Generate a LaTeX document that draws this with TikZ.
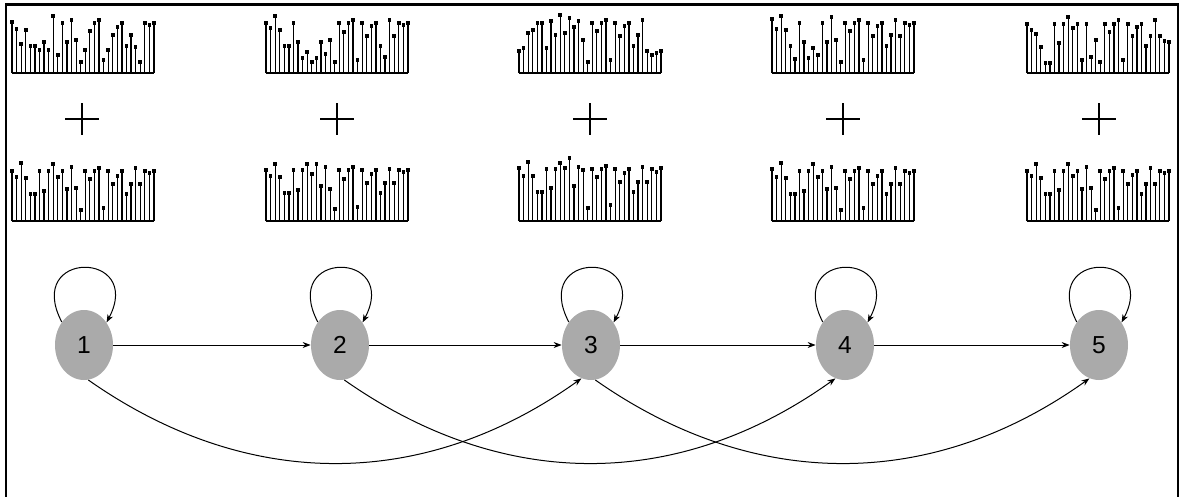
\documentclass[tikz,border=0pt]{standalone}
\usepackage{fontspec}
\setmainfont{Liberation Sans}
\usetikzlibrary{arrows.meta,shapes.geometric,calc}
\definecolor{stategray}{RGB}{170,170,170}
\begin{document}
\begin{tikzpicture}[x=0.02cm,y=-0.02cm,
  frame/.style={line width=2.6*0.02cm},
  stemline/.style={line width=1.2*0.02cm},
  baseline/.style={line width=1.6*0.02cm},
  plusline/.style={line width=1.1*0.02cm},
  state/.style={ellipse,fill=stategray,minimum width=58*0.02cm,minimum height=70*0.02cm,inner sep=0pt,
    font=\fontsize{14}{16}\selectfont},
  arr/.style={line width=1*0.02cm,-{Stealth[length=8*0.02cm,width=6*0.02cm]}}]
\useasboundingbox (0,0) rectangle (1181,497);
\fill[white] (0,0) rectangle (1181,497);
% frame: top, left and right edges
\draw[frame] (6,497) -- (6,4.5) -- (1178,4.5) -- (1178,497);

% stem plot: #1 left x, #2 baseline y, #3 heights (32 samples)
\newcommand\stemplot[3]{%
  \foreach \h [count=\k from 0] in {#3} {
    \draw[stemline] ({#1+\k*4.58},#2) -- ({#1+\k*4.58},{#2-\h});
    \fill ({#1+\k*4.58-1.8},{#2-\h-1.8}) rectangle ++(3.6,3.6);
  }
  \draw[baseline] (#1,#2) -- ({#1+31*4.58},#2);
}

% upper row of signals
\stemplot{12}{73}{51,44,29,43,27,27,23,31,23,57,18,50,31,53,33,11,23,42,50,53,13,23,38,46,50,27,38,26,11,50,48,50}
\stemplot{266}{73}{50,45,57,43,27,27,50,31,15,21,11,15,31,19,33,11,50,41,50,53,13,50,37,47,50,27,16,53,37,50,48,50}
\stemplot{519}{73}{22,25,40,43,50,50,25,52,38,58,40,55,46,52,33,11,50,42,50,53,13,50,37,47,50,27,38,53,22,18,20,22}
\stemplot{772}{73}{54,44,57,43,27,14,50,31,15,25,18,50,31,56,33,11,50,42,50,53,13,50,37,47,50,27,38,53,37,50,48,50}
\stemplot{1027}{73}{49,43,39,26,10,10,49,30,49,56,45,49,13,49,16,33,11,49,41,49,53,13,49,37,46,49,27,37,53,37,32,31}

% plus signs
\foreach \cx in {82,337,590,843,1099} {
  \draw[plusline] (\cx-17,119) -- (\cx+17,119);
  \draw[plusline] (\cx,103) -- (\cx,135);
}

% lower row of signals
\stemplot{12}{221}{50,44,58,43,27,27,50,30,50,57,44,50,32,54,33,11,50,42,50,53,13,50,37,45,50,27,37,53,37,50,48,50}
\stemplot{266}{221}{51,45,57,44,28,28,51,31,51,57,47,57,35,54,32,12,51,42,51,54,14,51,38,47,51,28,38,52,38,51,49,51}
\stemplot{519}{221}{53,45,59,45,29,29,52,33,52,58,53,63,35,54,51,13,52,44,52,55,16,52,39,48,52,29,39,54,39,52,49,53}
\stemplot{772}{221}{52,44,58,43,27,27,50,30,50,57,44,50,32,54,33,11,50,42,50,53,13,50,37,45,50,27,37,53,37,50,48,50}
\stemplot{1027}{221}{50,45,57,43,27,27,50,31,50,57,45,50,32,54,33,11,50,42,50,53,13,50,37,46,50,27,37,53,37,50,48,50}

% states
\node[state] (n1) at (84,345) {1};
\node[state] (n2) at (340,345) {2};
\node[state] (n3) at (591,345) {3};
\node[state] (n4) at (845,345) {4};
\node[state] (n5) at (1099,345) {5};

% self loops
\foreach \n in {n1,n2,n3,n4,n5} {
  \draw[arr] (\n.134) .. controls ($(\n.134)+(-38,-73)$) and ($(\n.45)+(38,-72)$) .. (\n.45);
}

% forward transitions
\draw[arr] (n1) -- (n2);
\draw[arr] (n2) -- (n3);
\draw[arr] (n3) -- (n4);
\draw[arr] (n4) -- (n5);

% skip transitions
\draw[arr] (n1.-83) .. controls ($(n1.-83)+(158,111)$) and ($(n3.-106)+(-158,113)$) .. (n3.-106);
\draw[arr] (n2.-83) .. controls ($(n2.-83)+(158,111)$) and ($(n4.-106)+(-158,113)$) .. (n4.-106);
\draw[arr] (n3.-83) .. controls ($(n3.-83)+(158,111)$) and ($(n5.-106)+(-158,113)$) .. (n5.-106);
\end{tikzpicture}
\end{document}
